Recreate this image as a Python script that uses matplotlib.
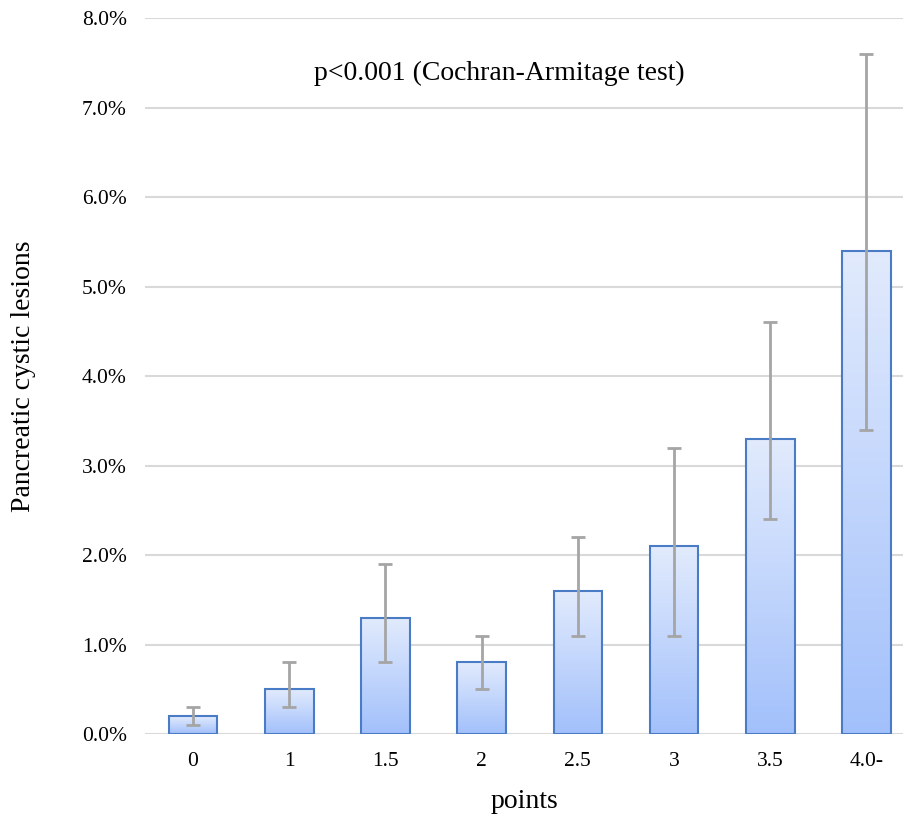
import matplotlib
matplotlib.use("Agg")
from matplotlib import pyplot as plt
from matplotlib.colors import LinearSegmentedColormap
from matplotlib.ticker import FuncFormatter
import numpy as np

# data (percent)
categories = ["0", "1", "1.5", "2", "2.5", "3", "3.5", "4.0-"]
rates = [0.2, 0.5, 1.3, 0.8, 1.6, 2.1, 3.3, 5.4]
ci_low = [0.1, 0.3, 0.8, 0.5, 1.1, 1.1, 2.4, 3.4]
ci_high = [0.3, 0.8, 1.9, 1.1, 2.2, 3.2, 4.6, 7.6]

plt.rcParams['font.family'] = ['Liberation Serif', 'DejaVu Serif']

fig = plt.figure(figsize=(9.04, 8.19), dpi=100)
ax = fig.add_axes([0.1604, 0.1038, 0.8396, 0.874])

x = np.arange(len(categories))
bars = ax.bar(x, rates, width=0.505, facecolor='none', edgecolor='#4a7cc6',
              linewidth=1.5, zorder=3)

# vertical gradient inside each bar: light at top, deeper blue at bottom
cmap = LinearSegmentedColormap.from_list('bar', ['#a2c0fb', '#e2ebfd'])
grad = np.linspace(0, 1, 256).reshape(-1, 1)
for b in bars:
    x0, y0 = b.get_x(), b.get_y()
    im = ax.imshow(grad, cmap=cmap, origin='lower', aspect='auto',
                   extent=[x0, x0 + b.get_width(), y0, y0 + b.get_height()],
                   zorder=2)
    im.set_clip_path(b)

err = [np.array(rates) - np.array(ci_low), np.array(ci_high) - np.array(rates)]
ax.errorbar(x, rates, yerr=err, fmt='none', ecolor='#a5a5a5', elinewidth=2.0,
            capsize=5, capthick=2.0, zorder=4)

ax.set_xlim(-0.499, 7.39)
ax.set_ylim(0, 8)
ax.set_yticks(np.arange(0, 9, 1))
ax.yaxis.set_major_formatter(FuncFormatter(lambda v, p: f"{v:.1f}%"))
ax.set_xticks(x)
ax.set_xticklabels(categories)
ax.tick_params(axis='both', length=0, labelsize=15.5)
ax.tick_params(axis='y', pad=13)
ax.tick_params(axis='x', pad=13)
ax.grid(axis='y', color='#d9d9d9', linewidth=1.5, zorder=0)
ax.set_axisbelow(True)
for s in ax.spines.values():
    s.set_visible(False)

ax.set_xlabel('points', fontsize=20, labelpad=13)
ax.set_ylabel('Pancreatic cystic lesions', fontsize=20, labelpad=33)

fig.text(499 / 904, 1 - 73 / 819, 'p<0.001 (Cochran-Armitage test)',
         ha='center', va='center', fontsize=20)

fig.savefig('out.png', dpi=100)
